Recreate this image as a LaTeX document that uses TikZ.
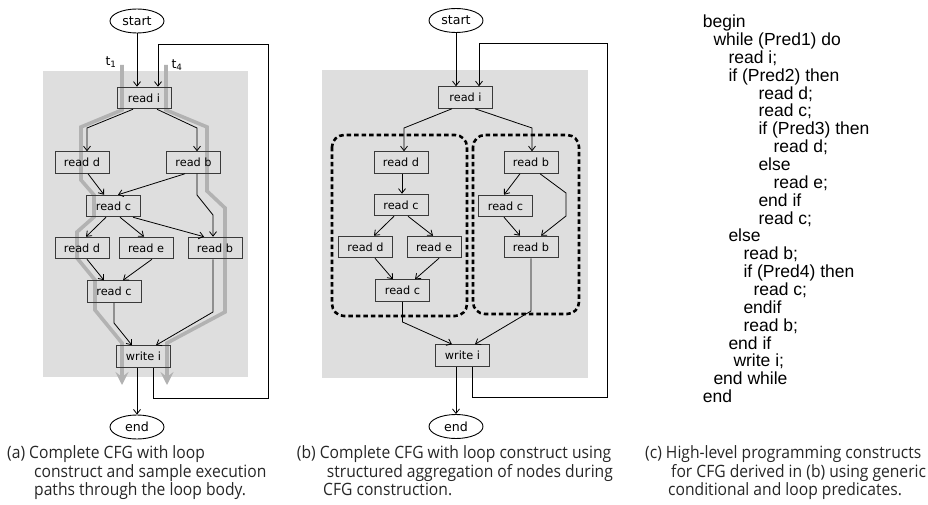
\documentclass[tikz,border=0pt]{standalone}
\usepackage{fontspec}
\usetikzlibrary{arrows.meta,shapes.geometric}
\newfontfamily\boxfont{DejaVu Sans}
\newfontfamily\codefont{Liberation Sans}
\newfontfamily\capfont[FakeStretch=0.92]{Open Sans}
\definecolor{bggray}{HTML}{DEDEDE}
\definecolor{pathgray}{HTML}{B2B2B2}
\definecolor{boxline}{HTML}{3A3A3A}
\tikzset{
  blk/.style={draw=boxline, line width=1pt, minimum width=54pt, minimum height=21.5pt, inner sep=0pt, font=\boxfont\fontsize{11.3}{13}\selectfont},
  term/.style={draw=black, ellipse, line width=0.9pt, minimum width=54pt, minimum height=24pt, inner sep=0pt, font=\boxfont\fontsize{12.6}{14}\selectfont},
  arr/.style={draw=black, line width=0.8pt, -{Straight Barb[length=4.5pt,width=7pt]}},
  loopline/.style={draw=black, line width=0.8pt, -{Straight Barb[length=4.5pt,width=7pt]}},
  xpath/.style={draw=pathgray, line width=3.6pt, -{Stealth[length=13pt,width=13pt,inset=5pt]}},
  grp/.style={draw=black, line width=2.6pt, dash pattern=on 4.5pt off 3pt, rounded corners=12pt},
  codeline/.style={anchor=base west, inner sep=0pt, font=\codefont\fontsize{17.5}{17.85}\selectfont},
  captext/.style={anchor=base west, inner sep=0pt, text=black!85, font=\capfont\fontsize{17}{18.7}\selectfont},
  tlab/.style={inner sep=0pt, font=\boxfont\fontsize{12.5}{14}\selectfont}
}
\begin{document}
\begin{tikzpicture}[x=1pt, y=-1pt]
\useasboundingbox (0,0) rectangle (928,505);

% ---------- panel (a) ----------
\fill[bggray] (43,71) rectangle (248,377);
\draw[xpath] (122,65) -- (122,110) -- (81,127) -- (81,180) -- (94,195) -- (94,217) -- (77,232) -- (77,258) -- (95,280) -- (95,310) -- (122,343) -- (122,385);
\draw[xpath] (166,65) -- (166,110) -- (207,127) -- (207,191) -- (225,208) -- (225,312) -- (167,343) -- (167,385);

\node[tlab] (t1) at (111,62) {t\textsubscript{1}};
\node[tlab] (t4) at (177,65) {t\textsubscript{4}};

\node[term] (as) at (137,21) {start};
\node[blk] (ai) at (144,98) {read i};
\node[blk] (ad1) at (82,162.5) {read d};
\node[blk] (ab1) at (193.5,162.5) {read b};
\node[blk] (ac1) at (113.5,206) {read c};
\node[blk] (ad2) at (82,248) {read d};
\node[blk] (ae2) at (146,248) {read e};
\node[blk] (ab2) at (215,248) {read b};
\node[blk] (ac2) at (114,291.5) {read c};
\node[blk] (aw) at (143.5,356.5) {write i};
\node[term] (ae) at (137,427) {end};

\draw[arr] (as.south) -- ([xshift=-7pt]ai.north);
\draw[loopline] ([xshift=9.5pt]aw.south) -- (153,398) -- (268,398) -- (268,44) -- (158,44) -- ([xshift=14pt]ai.north);
\draw[arr] ([xshift=-11pt]ai.south) -- (87,128) -- ([xshift=5pt]ad1.north);
\draw[arr] ([xshift=13pt]ai.south) -- (197,128) -- ([xshift=3.5pt]ab1.north);
\draw[arr] ([xshift=6pt]ad1.south) -- ([xshift=-9.5pt]ac1.north);
\draw[arr] ([xshift=-8.5pt]ab1.south) -- ([xshift=4.5pt]ac1.north);
\draw[arr] ([xshift=3.5pt]ab1.south) -- (197,195) -- (213,215) -- ([xshift=-2pt]ab2.north);
\draw[arr] ([xshift=-7.5pt]ac1.south) -- ([xshift=4pt]ad2.north);
\draw[arr] ([xshift=6.5pt]ac1.south) -- ([xshift=-2pt]ae2.north);
\draw[arr] ([xshift=19.5pt]ac1.south) -- ([xshift=-11pt]ab2.north);
\draw[arr] ([xshift=5pt]ad2.south) -- ([xshift=-10pt]ac2.north);
\draw[arr] ([xshift=6pt]ae2.south) -- ([xshift=9pt]ac2.north);
\draw[arr] (ac2.south) -- (114,323) -- ([xshift=-11.5pt]aw.north);
\draw[arr] ([xshift=-2pt]ab2.south) -- (213,312) -- ([xshift=12.5pt]aw.north);
\draw[arr] ([xshift=-6.5pt]aw.south) -- (ae.north);

% ---------- panel (b) ----------
\fill[bggray] (322,70) rectangle (588,378);
\draw[grp] (332,135) rectangle (467,316);
\draw[grp] (473,135) rectangle (579,314);

\node[term] (bs) at (456,20.5) {start};
\node[blk] (bi) at (465.5,97.5) {read i};
\node[blk] (bd1) at (401,162.5) {read d};
\node[blk] (bc1) at (401,205) {read c};
\node[blk] (bd2) at (365.5,247) {read d};
\node[blk] (be2) at (434,247) {read e};
\node[blk] (bc2) at (402.5,290.5) {read c};
\node[blk] (bb1) at (531,162.5) {read b};
\node[blk] (bcr) at (505.5,206) {read c};
\node[blk] (bb2) at (531,247) {read b};
\node[blk] (bw) at (462.5,355.5) {write i};
\node[term] (be) at (456,426.5) {end};

\draw[arr] (bs.south) -- ([xshift=-9.5pt]bi.north);
\draw[loopline] ([xshift=9.5pt]bw.south) -- (472,397) -- (607,397) -- (607,43) -- (479,43) -- ([xshift=13.5pt]bi.north);
\draw[arr] ([xshift=-13.5pt]bi.south) -- (404,128) -- ([xshift=3pt]bd1.north);
\draw[arr] ([xshift=9.5pt]bi.south) -- (532,128) -- ([xshift=1pt]bb1.north);
\draw[arr] ([xshift=1pt]bd1.south) -- ([xshift=1pt]bc1.north);
\draw[arr] ([xshift=-7pt]bc1.south) -- ([xshift=8.5pt]bd2.north);
\draw[arr] ([xshift=7pt]bc1.south) -- ([xshift=-1pt]be2.north);
\draw[arr] ([xshift=9.5pt]bd2.south) -- ([xshift=-9.5pt]bc2.north);
\draw[arr] ([xshift=5pt]be2.south) -- ([xshift=12.5pt]bc2.north);
\draw[arr] (bc2.south) -- (402.5,322) -- ([xshift=-10.5pt]bw.north);
\draw[arr] ([xshift=-11pt]bb1.south) -- ([xshift=-1.5pt]bcr.north);
\draw[arr] ([xshift=9pt]bb1.south) -- (566,193) -- (566,216) -- ([xshift=10pt]bb2.north);
\draw[arr] ([xshift=-1.5pt]bcr.south) -- ([xshift=-11pt]bb2.north);
\draw[arr] (bb2.south) -- (531,311) -- ([xshift=12.5pt]bw.north);
\draw[arr] ([xshift=-6.5pt]bw.south) -- (be.north);

% ---------- panel (c) ----------
\node[codeline] (c0)  at (702.7,27.7) {begin};
\node[codeline] (c1)  at (713.3,45.55) {while (Pred1) do};
\node[codeline] (c2)  at (728.3,63.4) {read i;};
\node[codeline] (c3)  at (728.3,81.25) {if (Pred2) then};
\node[codeline] (c4)  at (758.3,99.1) {read d;};
\node[codeline] (c5)  at (758.3,116.95) {read c;};
\node[codeline] (c6)  at (758.3,134.8) {if (Pred3) then};
\node[codeline] (c7)  at (773.3,152.65) {read d;};
\node[codeline] (c8)  at (758.3,170.5) {else};
\node[codeline] (c9)  at (773.3,188.35) {read e;};
\node[codeline] (c10) at (758.3,206.2) {end if};
\node[codeline] (c11) at (758.3,224.05) {read c;};
\node[codeline] (c12) at (728.3,241.9) {else};
\node[codeline] (c13) at (743.3,259.75) {read b;};
\node[codeline] (c14) at (743.3,277.6) {if (Pred4) then};
\node[codeline] (c15) at (753.3,295.45) {read c;};
\node[codeline] (c16) at (743.3,313.3) {endif};
\node[codeline] (c17) at (743.3,331.15) {read b;};
\node[codeline] (c18) at (728.3,349) {end if};
\node[codeline] (c19) at (733.3,366.85) {write i;};
\node[codeline] (c20) at (713.3,384.7) {end while};
\node[codeline] (c21) at (702.7,402.55) {end};

% ---------- captions ----------
\node[captext] (ca1) at (7,458) {(a) Complete CFG with loop};
\node[captext] (ca2) at (34,477) {construct and sample execution};
\node[captext] (ca3) at (34,495.5) {paths through the loop body.};
\node[captext] (cb1) at (296.7,458) {(b) Complete CFG with loop construct using};
\node[captext] (cb2) at (326.7,477) {structured aggregation of nodes during};
\node[captext] (cb3) at (323,495.5) {CFG construction.};
\node[captext] (cc1) at (645,458) {(c) High-level programming constructs};
\node[captext] (cc2) at (671,477) {for CFG derived in (b) using generic};
\node[captext] (cc3) at (668,495.5) {conditional and loop predicates.};
\end{tikzpicture}
\end{document}
